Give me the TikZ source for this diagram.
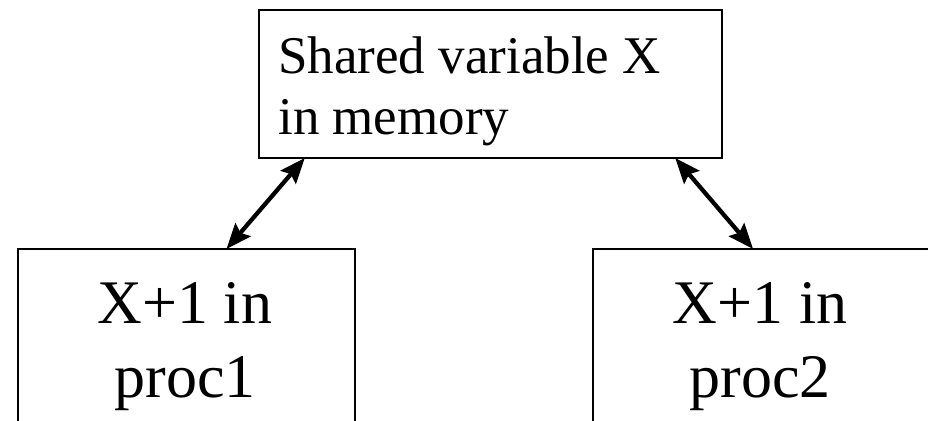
\documentclass[tikz,border=0pt]{standalone}
\usepackage{fontspec}
\setmainfont{Liberation Serif}
\usetikzlibrary{arrows.meta,calc}
\tikzset{
  boxnode/.style={draw=black, line width=1.5pt, rectangle, inner sep=0pt, outer sep=0pt},
  toptext/.style={inner sep=0pt, font=\fontsize{39.75pt}{45.75pt}\selectfont},
  lowtext/.style={inner sep=0pt, anchor=base, font=\fontsize{46.5pt}{55.5pt}\selectfont},
  link/.style={line width=3.2pt, {Stealth[length=19pt,width=15pt,inset=3pt]}-{Stealth[length=19pt,width=15pt,inset=3pt]}}
}
\begin{document}
\begin{tikzpicture}[x=0.75pt,y=-0.75pt]
\useasboundingbox (0,0) rectangle (928,421);
\clip (0,0) rectangle (928,421);
\fill[white] (0,0) rectangle (928,421);
\node[boxnode, minimum width=347.25pt, minimum height=111pt] (top) at (490,84) {};
\node[boxnode, minimum width=252.75pt, minimum height=135.75pt] (left) at (186,339.5) {};
\node[boxnode, minimum width=256.5pt, minimum height=135.75pt] (right) at (764,339.5) {};
\node[toptext, anchor=base west] (t1) at (278,73) {Shared variable X};
\node[toptext, anchor=base west] (t2) at (278,134) {in memory};
\node[lowtext] (l1) at (185,323) {X+1 in};
\node[lowtext] (l2) at (185,397) {proc1};
\node[lowtext] (r1) at (760,323) {X+1 in};
\node[lowtext] (r2) at (760,397) {proc2};
\coordinate (ta) at ($(top.south west)!0.1!(top.south east)$);
\coordinate (tb) at ($(top.south west)!0.9!(top.south east)$);
\coordinate (la) at ($(left.north west)!0.62!(left.north east)$);
\coordinate (rb) at ($(right.north west)!0.468!(right.north east)$);
\draw[link] (ta) -- (la);
\draw[link] (tb) -- (rb);
\end{tikzpicture}
\end{document}
